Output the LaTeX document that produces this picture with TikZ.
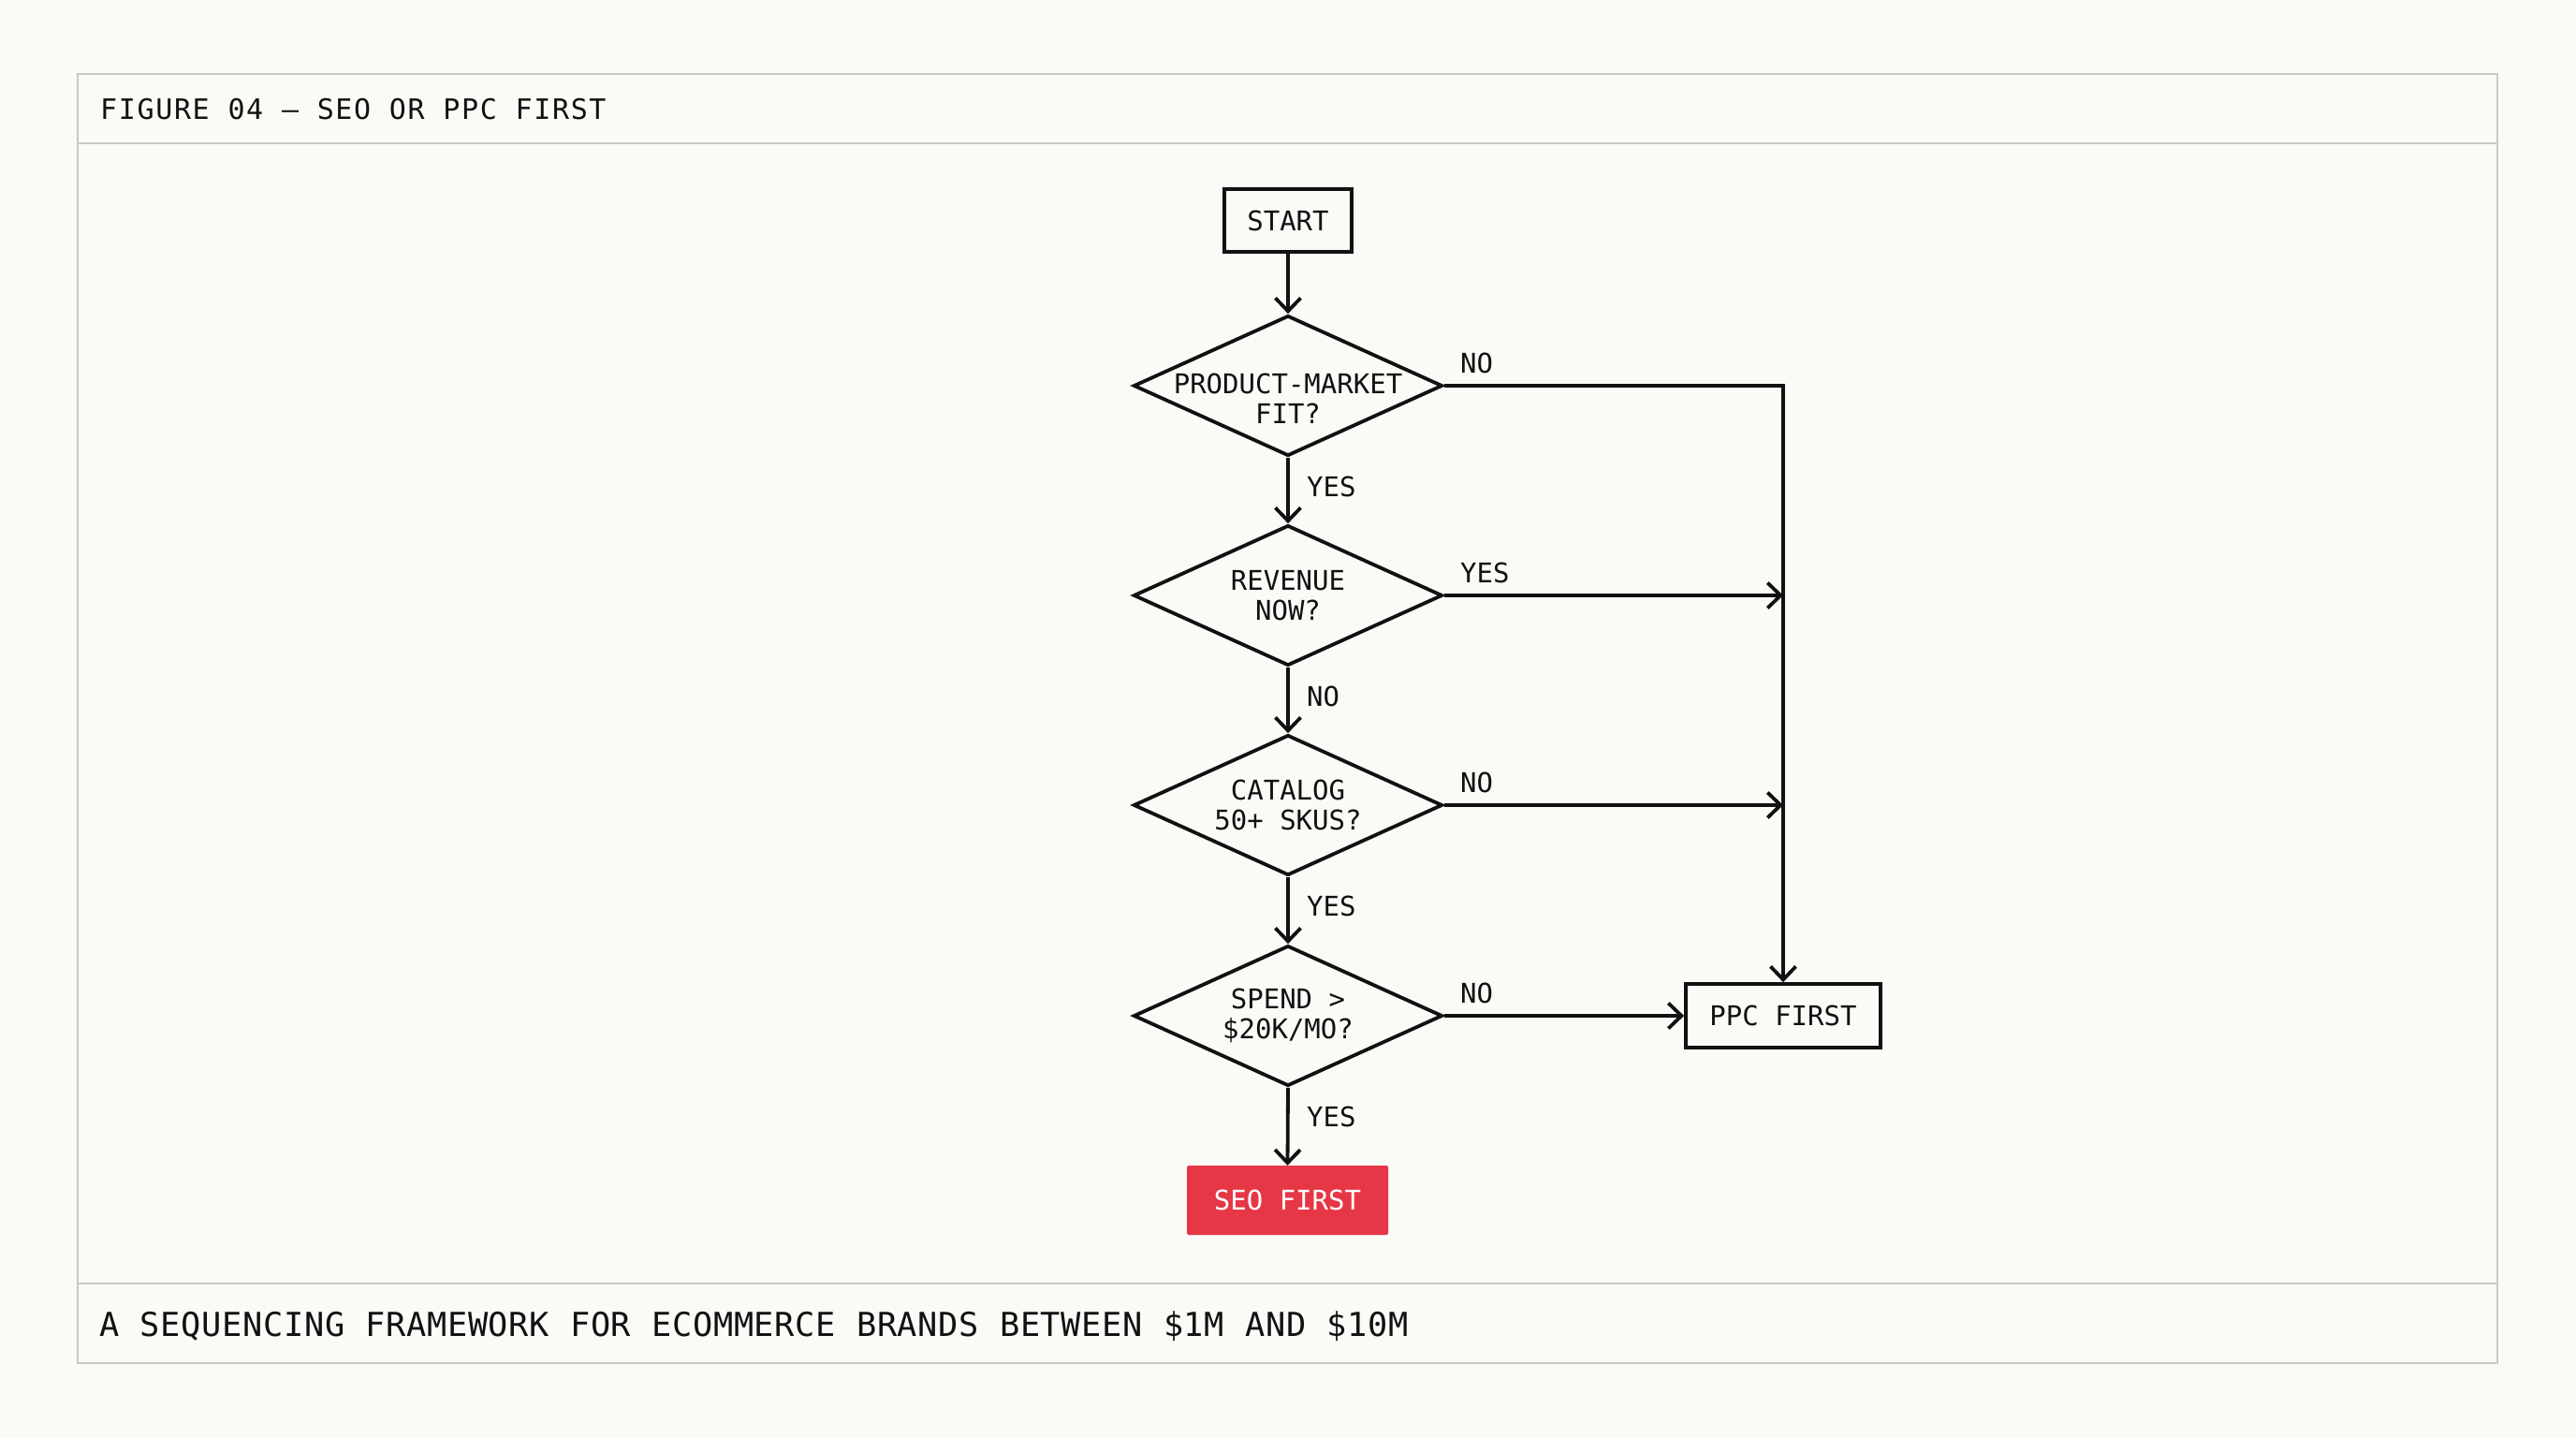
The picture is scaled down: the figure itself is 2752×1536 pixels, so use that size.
\documentclass[tikz,border=0pt]{standalone}
\usepackage{fontspec}
\newfontfamily\dmono{DejaVu Sans Mono}
\newfontfamily\hmono[LetterSpace=5.5]{DejaVu Sans Mono}
\newfontfamily\fmono[LetterSpace=2]{DejaVu Sans Mono}
\usetikzlibrary{arrows.meta,shapes.geometric,calc}
\definecolor{bg}{HTML}{FAFAF7}
\definecolor{framec}{HTML}{C9C9C5}
\definecolor{seored}{HTML}{E63746}
\definecolor{ink}{HTML}{111111}
\begin{document}
\begin{tikzpicture}[x=1pt,y=-1pt,
  every node/.style={inner sep=0pt, text=ink},
  dfont/.style={font=\dmono\fontsize{29}{32}\selectfont},
  stepbox/.style={dfont, draw=ink, line width=3.8pt, minimum width=136pt, minimum height=67pt},
  dia/.style={diamond, draw=ink, line width=3.8pt, minimum width=330pt, minimum height=150pt, inner sep=0pt, line join=miter},
  dtext/.style={dfont, align=center},
  lbl/.style={dfont, anchor=base west},
  conn/.style={draw=ink, line width=3.8pt, line join=miter, -{Straight Barb[length=14pt,width=27pt]}},
  framel/.style={draw=framec, line width=2pt}
]
\useasboundingbox[fill=bg] (0,0) rectangle (2752,1536);
% frame
\draw[framel] (83,79) rectangle (2668,1456);
\draw[framel] (83,153) -- (2668,153);
\draw[framel] (83,1371) -- (2668,1371);
\node[anchor=base west, font=\hmono\fontsize{30}{34}\selectfont] (title) at (107,128) {FIGURE 04 — SEO OR PPC FIRST};
\node[anchor=base west, font=\fmono\fontsize{35.3}{40}\selectfont] (caption) at (106,1427) {A SEQUENCING FRAMEWORK FOR ECOMMERCE BRANDS BETWEEN \$1M AND \$10M};
% nodes
\node[stepbox] (start) at (1376,235.5) {START};
\node[dia] (d1) at (1376,412) {};
\node[dtext] (t1) at ($(d1)+(0,14)$) {PRODUCT-MARKET\\FIT?};
\node[dia] (d2) at (1376,636) {};
\node[dtext] (t2) at (d2) {REVENUE\\NOW?};
\node[dia] (d3) at (1376,860) {};
\node[dtext] (t3) at (d3) {CATALOG\\50+ SKUS?};
\node[dia] (d4) at (1376,1085) {};
\node[dtext] (t4) at (d4) {SPEND >\\\$20K/MO?};
\node[stepbox, minimum width=208pt, minimum height=68pt] (ppc) at (1905,1085) {PPC FIRST};
\node[dfont, fill=seored, text=white, rounded corners=2pt, minimum width=215pt, minimum height=74pt] (seo) at (1375.5,1282) {SEO FIRST};
% connectors
\draw[conn] (start.south) -- (d1.north);
\draw[conn] (d1.south) -- (d2.north);
\draw[conn] (d2.south) -- (d3.north);
\draw[conn] (d3.south) -- (d4.north);
\draw[conn] (d4.south) -- (seo.north);
\draw[conn] (d1.east) -| (ppc.north);
\draw[conn] (d2.east) -- (d2.east -| ppc.north);
\draw[conn] (d3.east) -- (d3.east -| ppc.north);
\draw[conn] (d4.east) -- (d4.east -| ppc.west);
% labels
\node[lbl] (l1) at ($(d1.east)+(17,-14)$) {NO};
\node[lbl] (l2) at ($(d2.east)+(17,-14)$) {YES};
\node[lbl] (l3) at ($(d3.east)+(17,-14)$) {NO};
\node[lbl] (l4) at ($(d4.east)+(17,-14)$) {NO};
\node[lbl] (v1) at ($(d1.south)+(20,42)$) {YES};
\node[lbl] (v2) at ($(d2.south)+(20,42)$) {NO};
\node[lbl] (v3) at ($(d3.south)+(20,42)$) {YES};
\node[lbl] (v4) at ($(d4.south)+(20,42)$) {YES};
\end{tikzpicture}
\end{document}
